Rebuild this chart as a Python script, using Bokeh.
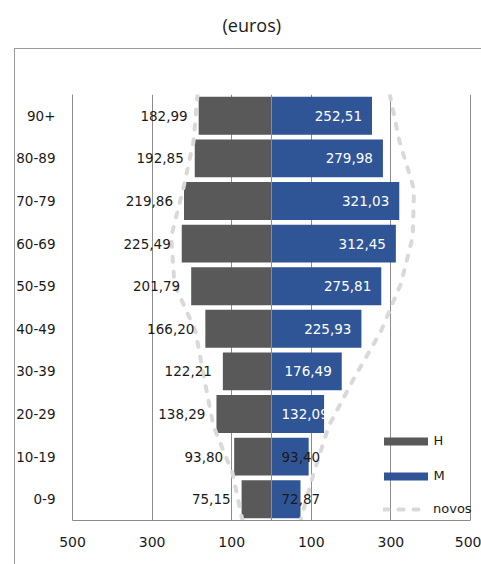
from bokeh.plotting import figure
from bokeh.models import (Range1d, FixedTicker, ColumnDataSource, Span, Title,
                          Legend, LegendItem, InlineStyleSheet)
from bokeh.core.properties import value
from bokeh.embed import file_html
from bokeh.resources import INLINE

# ---- data (top to bottom as in the chart) ----
categories = ["90+", "80-89", "70-79", "60-69", "50-59", "40-49", "30-39", "20-29", "10-19", "0-9"]
homens = [182.99, 192.85, 219.86, 225.49, 201.79, 166.20, 122.21, 138.29, 93.80, 75.15]
mulheres = [252.51, 279.98, 321.03, 312.45, 275.81, 225.93, 176.49, 132.09, 93.40, 72.87]
novos_h = [186, 196, 222, 252, 244, 191, 169, 146, 98, 73]
novos_m = [297, 322, 358, 355, 325, 275, 207, 144, 106, 73]
x_ticks = [-500, -300, -100, 100, 300, 500]
x_tick_labels = ["500", "300", "100", "100", "300", "500"]
title_text = "(euros)"

FONT = "DejaVu Sans"
GRAY_BAR = "#595959"
BLUE_BAR = "#2F5597"
AXIS_GRAY = "#8c8c8c"
TXT = "#1a1a1a"

n = len(categories)
ypos = [n - 0.5 - i for i in range(n)]          # category centres, top row first

# frame spans 72..481 px; -500..500 must map onto 72..470 px
x_max = 500 + 11 * 1000 / 398.0

css = InlineStyleSheet(css="""
:host { position: relative; }
:host::after {
  content: ""; position: absolute; left: 14px; top: 48px; right: 0; bottom: 0;
  border-left: 1.5px solid #9a9a9a; border-top: 1.5px solid #9a9a9a;
  pointer-events: none; z-index: 50;
}
""")

p = figure(width=481, height=564, output_backend="svg", toolbar_location=None,
           y_range=Range1d(0, n), x_range=Range1d(-500, x_max),
           min_border_left=72, min_border_right=0, min_border_top=94, min_border_bottom=44,
           stylesheets=[css])
p.outline_line_color = None
p.background_fill_color = "white"
p.border_fill_color = "white"
p.extra_y_ranges = {"novos": Range1d(0, n - 1)}

# title (a blank spacer title sits between the real title and the frame)
spacer = Title(text=" ", text_font_size="10px", standoff=45, align="left")
main_title = Title(text=title_text, align="left", offset=150, standoff=0,
                   vertical_align="bottom", text_font="Open Sans", text_font_size="18px",
                   text_font_style="normal", text_color=TXT)
p.add_layout(spacer, "above")
p.add_layout(main_title, "above")

# grid
p.ygrid.grid_line_color = None
p.xgrid.ticker = FixedTicker(ticks=x_ticks)
p.xgrid.grid_line_color = AXIS_GRAY
p.xgrid.grid_line_width = 1

# axes
p.xaxis.ticker = FixedTicker(ticks=x_ticks)
p.xaxis.major_label_overrides = {t: l for t, l in zip(x_ticks, x_tick_labels)}
p.xaxis.bounds = (-500, 500)
p.yaxis.ticker = FixedTicker(ticks=ypos)
p.yaxis.major_label_overrides = {y: c for y, c in zip(ypos, categories)}
for ax in (p.xaxis[0], p.yaxis[0]):
    ax.axis_line_color = AXIS_GRAY
    ax.axis_line_width = 1
    ax.major_tick_line_color = None
    ax.minor_tick_line_color = None
    ax.major_tick_out = 0
    ax.major_tick_in = 0
    ax.major_label_text_font = FONT
    ax.major_label_text_color = TXT
p.xaxis.major_label_text_font_size = "14px"
p.xaxis.major_label_standoff = 16
p.yaxis.major_label_text_font_size = "13.5px"
p.yaxis.major_label_standoff = 17

# bars
src = ColumnDataSource(dict(y=ypos, h=[-v for v in homens], m=mulheres))
rh = p.hbar(y="y", left="h", right=0, height=0.89, source=src, fill_color=GRAY_BAR, line_color=None)
rm = p.hbar(y="y", left=0, right="m", height=0.89, source=src, fill_color=BLUE_BAR, line_color=None)

# centre axis line
p.add_layout(Span(location=0, dimension="height", line_color=AXIS_GRAY, line_width=1))

# novos dashed lines (secondary y range spanning the full height)
idx = list(range(n - 1, -1, -1))
dash_kw = dict(line_color="#d9d9d9", line_width=4, line_dash="5 10", line_cap="round",
               line_join="round", y_range_name="novos")
ln = p.line(x=[-v for v in novos_h], y=idx, **dash_kw)
p.line(x=novos_m, y=idx, **dash_kw)

# value labels
def fmt(v):
    return f"{v:.2f}".replace(".", ",")

lx, ly, lt, la, lc, lo = [], [], [], [], [], []
for yv, hv, mv in zip(ypos, homens, mulheres):
    lx.append(-hv); ly.append(yv); lt.append(fmt(hv)); la.append("right"); lc.append(TXT); lo.append(-11)
    if mv >= 170:
        lx.append(mv); la.append("right"); lo.append(-10)
    else:
        lx.append(0); la.append("left"); lo.append(10)
    ly.append(yv); lt.append(fmt(mv))
    lc.append("white" if mv >= 100 else TXT)
lsrc = ColumnDataSource(dict(x=lx, y=ly, t=lt, a=la, c=lc, o=lo))
p.text(x="x", y="y", text="t", text_align="a", text_color="c", x_offset="o",
       text_baseline="middle", text_font=value(FONT), text_font_size="13.5px", source=lsrc)

# legends
leg_kw = dict(orientation="vertical", padding=0, margin=0, border_line_color=None,
              background_fill_alpha=0, label_text_font=FONT, label_text_font_size="13px",
              label_text_color=TXT, label_text_baseline="middle", label_height=14)
leg1 = Legend(items=[LegendItem(label="H", renderers=[rh]),
                     LegendItem(label="M", renderers=[rm])],
              location=(305.5, 37), glyph_width=55, glyph_height=10, label_standoff=1,
              spacing=20, **leg_kw)
leg2 = Legend(items=[LegendItem(label="novos", renderers=[ln])],
              location=(311, 4), glyph_width=42, glyph_height=14, label_standoff=8, **leg_kw)
p.add_layout(leg1)
p.add_layout(leg2)

open("out.html", "w").write(file_html(p, INLINE))
